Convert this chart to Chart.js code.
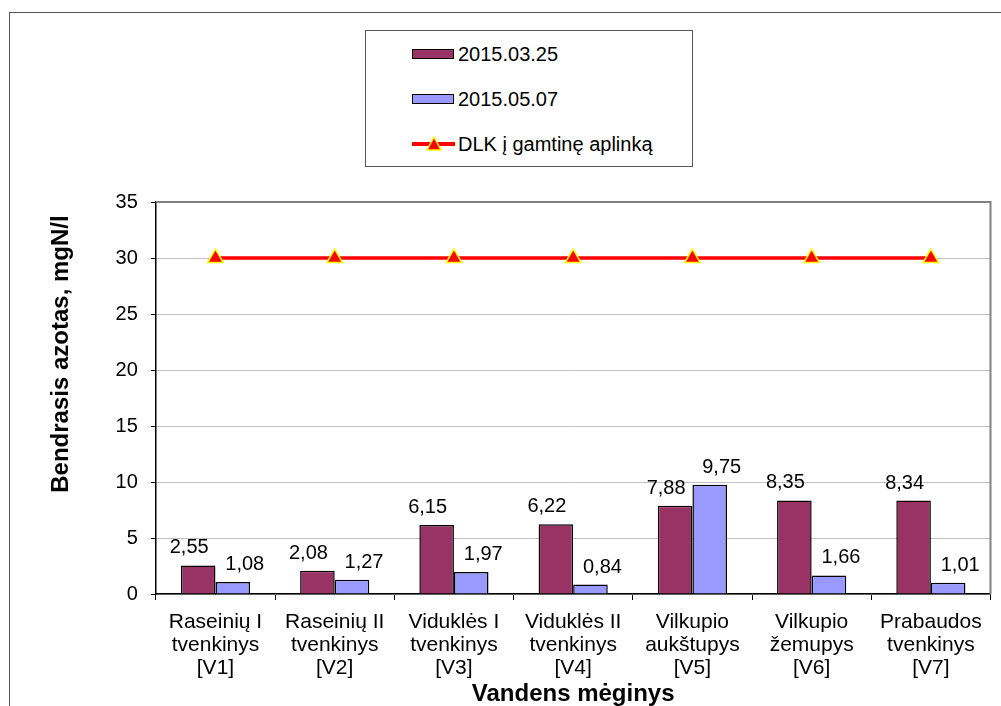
<!DOCTYPE html>
<html>
<head>
<meta charset="utf-8">
<script src="https://cdn.jsdelivr.net/npm/chart.js@4"></script>
<style>
  html, body { margin: 0; padding: 0; background: #fff; overflow: hidden; }
  #wrap { position: relative; width: 1001px; height: 706px; }
  #frame { position: absolute; left: 9px; top: 12px; width: 1100px; height: 800px;
           border: 1.5px solid #555; box-sizing: border-box; }
  #legend { position: absolute; left: 365px; top: 30px; width: 328px; height: 137px;
            border: 1.5px solid #555; box-sizing: border-box; background: #fff;
            font-family: Arial, "Liberation Sans", sans-serif; font-size: 20px; color: #000; }
  .item { position: absolute; left: 46px; height: 24px; display: flex; align-items: center; }
  .swatch { width: 40px; height: 8px; border: 1.5px solid #000; margin-right: 4px; }
  .lineSw { position: relative; width: 43px; height: 24px; margin-right: 3px; }
  .lineSw .ln { position: absolute; left: 0; right: 0; top: 10px; height: 4px; background: #f00; }
</style>
</head>
<body>
<div id="wrap">
  <div id="frame"></div>
  <canvas id="myChart" width="1001" height="706"></canvas>
  <div id="legend"></div>
</div>
<script>
const categories = [
  ['Raseinių I', 'tvenkinys', '[V1]'],
  ['Raseinių II', 'tvenkinys', '[V2]'],
  ['Viduklės I', 'tvenkinys', '[V3]'],
  ['Viduklės II', 'tvenkinys', '[V4]'],
  ['Vilkupio', 'aukštupys', '[V5]'],
  ['Vilkupio', 'žemupys', '[V6]'],
  ['Prabaudos', 'tvenkinys', '[V7]']
];
const march = [2.55, 2.08, 6.15, 6.22, 7.88, 8.35, 8.34];
const may = [1.08, 1.27, 1.97, 0.84, 9.75, 1.66, 1.01];
const limit = [30, 30, 30, 30, 30, 30, 30];
const seriesNames = ['2015.03.25', '2015.05.07', 'DLK į gamtinę aplinką'];

const FONT = 'Arial, "Liberation Sans", sans-serif';

// value labels above bars, with comma decimals
const barLabels = {
  id: 'barLabels',
  afterDatasetsDraw(chart) {
    const c = chart.ctx;
    c.save();
    c.font = '20px ' + FONT;
    c.fillStyle = '#000';
    c.textAlign = 'center';
    c.textBaseline = 'alphabetic';
    chart.data.datasets.forEach((ds, i) => {
      if (ds.type !== 'bar') return;
      const meta = chart.getDatasetMeta(i);
      meta.data.forEach((bar, j) => {
        const txt = ds.data[j].toFixed(2).replace('.', ',');
        c.fillText(txt, bar.x + ds.labelDx, bar.y - 12);
      });
    });
    c.restore();
  }
};

// grey top / right border of the plot area
const plotBorder = {
  id: 'plotBorder',
  afterDraw(chart) {
    const a = chart.chartArea, c = chart.ctx;
    c.save();
    c.strokeStyle = '#808080';
    c.lineWidth = 2;
    c.beginPath();
    c.moveTo(a.left, a.top);
    c.lineTo(a.right, a.top);
    c.lineTo(a.right, a.bottom);
    c.stroke();
    c.restore();
  }
};

const ctx = document.getElementById('myChart');
const chart = new Chart(ctx, {
  data: {
    labels: categories,
    datasets: [
      { type: 'line', label: seriesNames[2], data: limit, order: 0,
        borderColor: '#FF0000', borderWidth: 3.5,
        pointStyle: 'triangle', pointRadius: 9,
        pointBackgroundColor: '#FF0000', pointBorderColor: '#FFFF00', pointBorderWidth: 1.5 },
      { type: 'bar', label: seriesNames[0], data: march, order: 1, labelDx: -9,
        backgroundColor: '#993366', borderColor: '#000', borderWidth: 1.5,
        categoryPercentage: 0.58, barPercentage: 1 },
      { type: 'bar', label: seriesNames[1], data: may, order: 2, labelDx: 12,
        backgroundColor: '#9999FF', borderColor: '#000', borderWidth: 1.5,
        categoryPercentage: 0.58, barPercentage: 1 }
    ]
  },
  options: {
    responsive: false,
    animation: false,
    layout: { padding: { left: 48, right: 10, top: 202, bottom: 0 } },
    plugins: { legend: { display: false }, tooltip: { enabled: false } },
    scales: {
      x: {
        grid: { display: true, drawOnChartArea: false, color: '#000', tickLength: 6 },
        border: { color: '#000', width: 1.5 },
        ticks: { color: '#000', padding: 11, maxRotation: 0,
                 font: { family: FONT, size: 21, lineHeight: '23px' } },
        title: { display: true, text: 'Vandens mėginys', color: '#000',
                 padding: { top: -9, bottom: 0 },
                 font: { family: FONT, size: 24, weight: 'bold', lineHeight: 1.0 } }
      },
      y: {
        min: 0, max: 35,
        grid: { color: '#c0c0c0', tickColor: '#000', tickLength: 5 },
        border: { color: '#000', width: 1.5 },
        ticks: { stepSize: 5, color: '#000', padding: 13,
                 font: { family: FONT, size: 20 } },
        title: { display: true, text: 'Bendrasis azotas, mgN/l  ', color: '#000',
                 align: 'end',
                 padding: { top: 0, bottom: 27 },
                 font: { family: FONT, size: 24, weight: 'bold', lineHeight: 1.15 } }
      }
    }
  },
  plugins: [barLabels, plotBorder]
});

// legend box built from the datasets
const legend = document.getElementById('legend');
const legendOrder = [1, 2, 0];
legendOrder.forEach((di, k) => {
  const ds = chart.data.datasets[di];
  const item = document.createElement('div');
  item.className = 'item';
  item.style.top = (11 + k * 45) + 'px';
  if (ds.type === 'bar') {
    const sw = document.createElement('div');
    sw.className = 'swatch';
    sw.style.background = ds.backgroundColor;
    item.appendChild(sw);
  } else {
    const sw = document.createElement('div');
    sw.className = 'lineSw';
    sw.innerHTML = '<div class="ln"></div>' +
      '<svg style="position:absolute;left:14px;top:4px" width="16" height="16">' +
      '<polygon points="8,1 15,14 1,14" fill="#f00" stroke="#ff0" stroke-width="1.5"/></svg>';
    item.appendChild(sw);
  }
  const t = document.createElement('span');
  t.textContent = ds.label;
  item.appendChild(t);
  legend.appendChild(item);
});
</script>
</body>
</html>
